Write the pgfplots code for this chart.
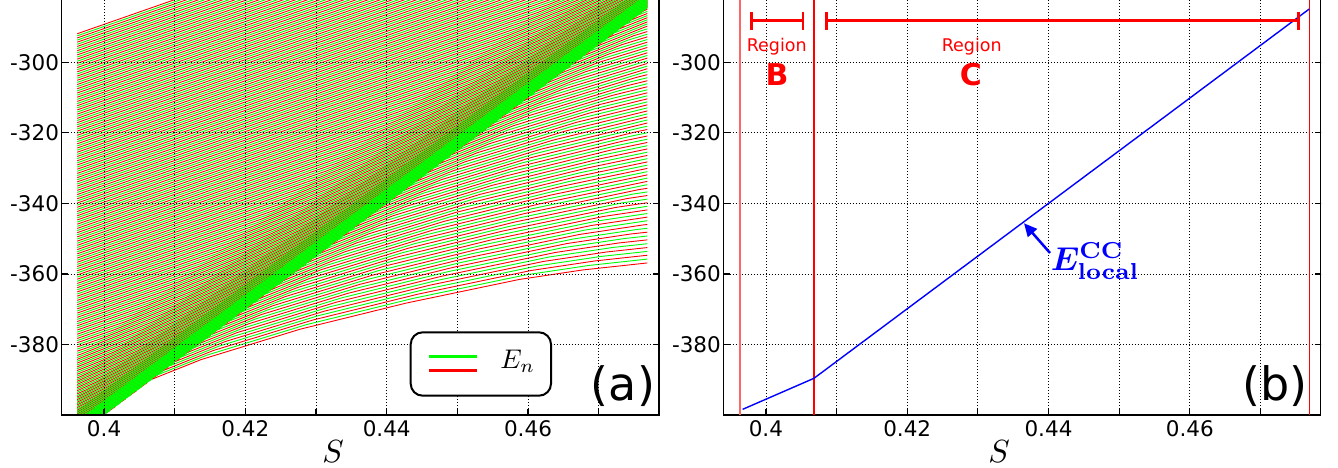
\RequirePackage{fix-cm}
\documentclass[border=0pt]{standalone}
\usepackage[no-math]{fontspec}
\setmainfont{DejaVu Sans}
\usepackage{bm}
\usepackage{graphicx}
\usepackage{pgfplots}
\pgfplotsset{compat=1.18}
\usetikzlibrary{arrows.meta}
\newcommand\LR[1]{\addplot[red,line width=0.9pt,mark=none,forget plot] coordinates {#1};}
\newcommand\LG[1]{\addplot[green,line width=0.9pt,mark=none,forget plot] coordinates {#1};}
\pgfplotsset{panel/.style={
 scale only axis, width=597pt, height=423.24pt, anchor=south west,
 xmin=0.394, xmax=0.4785, ymin=-400, ymax=-280,
 xtick={0.4,0.41,0.42,0.43,0.44,0.45,0.46,0.47},
 xticklabels={0.4,,0.42,,0.44,,0.46,},
 ytick={-380,-360,-340,-320,-300},
 yticklabels={-380,-360,-340,-320,-300},
 xmajorgrids, ymajorgrids,
 major grid style={black, line width=0.8pt, dash pattern=on 0.8pt off 2.2pt},
 axis line style={black, line width=1.6pt},
 tick align=inside, major tick length=6pt,
 every tick/.append style={black, line width=1.2pt},
 tick label style={font=\fontsize{21.5}{25}\selectfont},
 xticklabel style={anchor=north, inner sep=0pt, yshift=-5pt},
 yticklabel style={anchor=east, inner sep=0pt, xshift=-2.5pt},
}}
\begin{document}
\begin{tikzpicture}
\path[use as bounding box] (-61.7pt,-52pt) rectangle (1276.3pt,415pt);
\begin{axis}[scale only axis, width=570.15pt, height=423.24pt, at={(15.54pt,0pt)}, anchor=south west,
 xmin=0.3962, xmax=0.4769, ymin=-400, ymax=-280, hide axis]
% ---- red upper (even k)
\LR{(0.37342,-435.861)(0.40009,-399.861)}
\LR{(0.37492,-433.611)(0.40159,-397.611)}
\LR{(0.37642,-431.361)(0.40309,-395.361)}
\LR{(0.37792,-429.111)(0.40459,-393.111)}
\LR{(0.37942,-426.861)(0.40609,-390.861)}
\LR{(0.38092,-424.611)(0.40759,-388.611)}
\LR{(0.38242,-422.361)(0.40909,-386.361)}
\LR{(0.38392,-420.111)(0.41059,-384.111)}
\LR{(0.38542,-417.861)(0.41209,-381.861)}
\LR{(0.38692,-415.611)(0.41359,-379.611)}
\LR{(0.38842,-413.361)(0.41509,-377.361)}
\LR{(0.38992,-411.111)(0.41659,-375.111)}
\LR{(0.39142,-408.861)(0.41809,-372.861)}
\LR{(0.39292,-406.611)(0.41959,-370.611)}
\LR{(0.39442,-404.361)(0.42109,-368.361)}
\LR{(0.39592,-402.111)(0.42259,-366.111)}
\LR{(0.38885,-409.718)(0.39742,-399.861)(0.42409,-363.861)}
\LR{(0.39035,-407.468)(0.39892,-397.611)(0.42559,-361.611)}
\LR{(0.39185,-405.218)(0.40042,-395.361)(0.42709,-359.361)}
\LR{(0.39335,-402.968)(0.40192,-393.111)(0.42859,-357.111)}
\LR{(0.39485,-400.718)(0.40342,-390.861)(0.43009,-354.861)}
\LR{(0.38835,-406.468)(0.39635,-398.468)(0.40492,-388.611)(0.43159,-352.611)}
\LR{(0.38985,-404.218)(0.39785,-396.218)(0.40642,-386.361)(0.43309,-350.361)}
\LR{(0.39135,-401.968)(0.39935,-393.968)(0.40792,-384.111)(0.43459,-348.111)}
\LR{(0.39285,-399.718)(0.40085,-391.718)(0.40942,-381.861)(0.43609,-345.861)}
\LR{(0.39435,-397.468)(0.40235,-389.468)(0.41092,-379.611)(0.43759,-343.611)}
\LR{(0.39585,-395.218)(0.40385,-387.218)(0.41242,-377.361)(0.43909,-341.361)}
\LR{(0.38902,-400.468)(0.39735,-392.968)(0.40535,-384.968)(0.41392,-375.111)(0.44059,-339.111)}
\LR{(0.39052,-398.218)(0.39885,-390.718)(0.40685,-382.718)(0.41542,-372.861)(0.44209,-336.861)}
\LR{(0.39202,-395.968)(0.40035,-388.468)(0.40835,-380.468)(0.41692,-370.611)(0.44359,-334.611)}
\LR{(0.39352,-393.718)(0.40185,-386.218)(0.40985,-378.218)(0.41842,-368.361)(0.44509,-332.361)}
\LR{(0.39502,-391.468)(0.40335,-383.968)(0.41135,-375.968)(0.41992,-366.111)(0.44659,-330.111)}
\LR{(0.38795,-396.075)(0.39652,-389.218)(0.40485,-381.718)(0.41285,-373.718)(0.42142,-363.861)(0.44809,-327.861)}
\LR{(0.38945,-393.825)(0.39802,-386.968)(0.40635,-379.468)(0.41435,-371.468)(0.42292,-361.611)(0.44959,-325.611)}
\LR{(0.39095,-391.575)(0.39952,-384.718)(0.40785,-377.218)(0.41585,-369.218)(0.42442,-359.361)(0.45109,-323.361)}
\LR{(0.39245,-389.325)(0.40102,-382.468)(0.40935,-374.968)(0.41735,-366.968)(0.42592,-357.111)(0.45259,-321.111)}
\LR{(0.39395,-387.075)(0.40252,-380.218)(0.41085,-372.718)(0.41885,-364.718)(0.42742,-354.861)(0.45409,-318.861)}
\LR{(0.39545,-384.825)(0.40402,-377.968)(0.41235,-370.468)(0.42035,-362.468)(0.42892,-352.611)(0.45559,-316.611)}
\LR{(0.3962,-383.1)(0.39695,-382.575)(0.40552,-375.718)(0.41385,-368.218)(0.42185,-360.218)(0.43042,-350.361)(0.45709,-314.361)}
\LR{(0.3962,-381.9)(0.39845,-380.325)(0.40702,-373.468)(0.41535,-365.968)(0.42335,-357.968)(0.43192,-348.111)(0.45859,-312.111)}
\LR{(0.3962,-380.7)(0.39995,-378.075)(0.40852,-371.218)(0.41685,-363.718)(0.42485,-355.718)(0.43342,-345.861)(0.46009,-309.861)}
\LR{(0.3962,-379.5)(0.40145,-375.825)(0.41002,-368.968)(0.41835,-361.468)(0.42635,-353.468)(0.43492,-343.611)(0.46159,-307.611)}
\LR{(0.3962,-378.3)(0.40295,-373.575)(0.41152,-366.718)(0.41985,-359.218)(0.42785,-351.218)(0.43642,-341.361)(0.46309,-305.361)}
\LR{(0.3962,-377.1)(0.40445,-371.325)(0.41302,-364.468)(0.42135,-356.968)(0.42935,-348.968)(0.43792,-339.111)(0.46459,-303.111)}
\LR{(0.3962,-375.9)(0.40595,-369.075)(0.41452,-362.218)(0.42285,-354.718)(0.43085,-346.718)(0.43942,-336.861)(0.46609,-300.861)}
\LR{(0.3962,-374.7)(0.40745,-366.825)(0.41602,-359.968)(0.42435,-352.468)(0.43235,-344.468)(0.44092,-334.611)(0.46759,-298.611)}
\LR{(0.3962,-373.5)(0.40895,-364.575)(0.41752,-357.718)(0.42585,-350.218)(0.43385,-342.218)(0.44242,-332.361)(0.46909,-296.361)}
\LR{(0.3962,-372.3)(0.41045,-362.325)(0.41902,-355.468)(0.42735,-347.968)(0.43535,-339.968)(0.44392,-330.111)(0.47059,-294.111)}
\LR{(0.3962,-371.1)(0.41195,-360.075)(0.42052,-353.218)(0.42885,-345.718)(0.43685,-337.718)(0.44542,-327.861)(0.47209,-291.861)}
\LR{(0.3962,-369.9)(0.41345,-357.825)(0.42202,-350.968)(0.43035,-343.468)(0.43835,-335.468)(0.44692,-325.611)(0.47359,-289.611)}
\LR{(0.3962,-368.7)(0.41495,-355.575)(0.42352,-348.718)(0.43185,-341.218)(0.43985,-333.218)(0.44842,-323.361)(0.47509,-287.361)}
\LR{(0.3962,-367.5)(0.41645,-353.325)(0.42502,-346.468)(0.43335,-338.968)(0.44135,-330.968)(0.44992,-321.111)(0.47659,-285.111)}
\LR{(0.3962,-366.3)(0.41795,-351.075)(0.42652,-344.218)(0.43485,-336.718)(0.44285,-328.718)(0.45142,-318.861)(0.47809,-282.861)}
\LR{(0.3962,-365.1)(0.41945,-348.825)(0.42802,-341.968)(0.43635,-334.468)(0.44435,-326.468)(0.45292,-316.611)(0.47959,-280.611)}
\LR{(0.3962,-363.9)(0.42095,-346.575)(0.42952,-339.718)(0.43785,-332.218)(0.44585,-324.218)(0.45442,-314.361)(0.48109,-278.361)}
\LR{(0.3962,-362.7)(0.42245,-344.325)(0.43102,-337.468)(0.43935,-329.968)(0.44735,-321.968)(0.45592,-312.111)(0.48259,-276.111)}
\LR{(0.3962,-361.5)(0.42395,-342.075)(0.43252,-335.218)(0.44085,-327.718)(0.44885,-319.718)(0.45742,-309.861)(0.48409,-273.861)}
\LR{(0.3962,-360.3)(0.42545,-339.825)(0.43402,-332.968)(0.44235,-325.468)(0.45035,-317.468)(0.45892,-307.611)(0.48559,-271.611)}
\LR{(0.3962,-359.1)(0.42695,-337.575)(0.43552,-330.718)(0.44385,-323.218)(0.45185,-315.218)(0.46042,-305.361)(0.48709,-269.361)}
\LR{(0.3962,-357.9)(0.42845,-335.325)(0.43702,-328.468)(0.44535,-320.968)(0.45335,-312.968)(0.46192,-303.111)(0.48859,-267.111)}
\LR{(0.3962,-356.7)(0.42995,-333.075)(0.43852,-326.218)(0.44685,-318.718)(0.45485,-310.718)(0.46342,-300.861)(0.49009,-264.861)}
\LR{(0.3962,-355.5)(0.43145,-330.825)(0.44002,-323.968)(0.44835,-316.468)(0.45635,-308.468)(0.46492,-298.611)(0.49159,-262.611)}
\LR{(0.3962,-354.3)(0.43295,-328.575)(0.44152,-321.718)(0.44985,-314.218)(0.45785,-306.218)(0.46642,-296.361)(0.49309,-260.361)}
\LR{(0.3962,-353.1)(0.43445,-326.325)(0.44302,-319.468)(0.45135,-311.968)(0.45935,-303.968)(0.46792,-294.111)(0.49459,-258.111)}
\LR{(0.3962,-351.9)(0.43595,-324.075)(0.44452,-317.218)(0.45285,-309.718)(0.46085,-301.718)(0.46942,-291.861)(0.49609,-255.861)}
\LR{(0.3962,-350.7)(0.43745,-321.825)(0.44602,-314.968)(0.45435,-307.468)(0.46235,-299.468)(0.47092,-289.611)(0.49759,-253.611)}
\LR{(0.3962,-349.5)(0.43895,-319.575)(0.44752,-312.718)(0.45585,-305.218)(0.46385,-297.218)(0.47242,-287.361)(0.49909,-251.361)}
\LR{(0.3962,-348.3)(0.44045,-317.325)(0.44902,-310.468)(0.45735,-302.968)(0.46535,-294.968)(0.47392,-285.111)(0.50059,-249.111)}
\LR{(0.3962,-347.1)(0.44195,-315.075)(0.45052,-308.218)(0.45885,-300.718)(0.46685,-292.718)(0.47542,-282.861)(0.50209,-246.861)}
\LR{(0.3962,-345.9)(0.44345,-312.825)(0.45202,-305.968)(0.46035,-298.468)(0.46835,-290.468)(0.47692,-280.611)}
\LR{(0.3962,-344.7)(0.44495,-310.575)(0.45352,-303.718)(0.46185,-296.218)(0.46985,-288.218)(0.47842,-278.361)}
\LR{(0.3962,-343.5)(0.44645,-308.325)(0.45502,-301.468)(0.46335,-293.968)(0.47135,-285.968)(0.47992,-276.111)}
\LR{(0.3962,-342.3)(0.44795,-306.075)(0.45652,-299.218)(0.46485,-291.718)(0.47285,-283.718)(0.48142,-273.861)}
\LR{(0.3962,-341.1)(0.44945,-303.825)(0.45802,-296.968)(0.46635,-289.468)(0.47435,-281.468)}
\LR{(0.3962,-339.9)(0.45095,-301.575)(0.45952,-294.718)(0.46785,-287.218)(0.47585,-279.218)}
\LR{(0.3962,-338.7)(0.45245,-299.325)(0.46102,-292.468)(0.46935,-284.968)(0.47735,-276.968)}
\LR{(0.3962,-337.5)(0.45395,-297.075)(0.46252,-290.218)(0.47085,-282.718)(0.47885,-274.718)}
\LR{(0.3962,-336.3)(0.45545,-294.825)(0.46402,-287.968)(0.47235,-280.468)}
\LR{(0.3962,-335.1)(0.45695,-292.575)(0.46552,-285.718)(0.47385,-278.218)}
\LR{(0.3962,-333.9)(0.45845,-290.325)(0.46702,-283.468)(0.47535,-275.968)}
\LR{(0.3962,-332.7)(0.45995,-288.075)(0.46852,-281.218)}
\LR{(0.3962,-331.5)(0.46145,-285.825)(0.47002,-278.968)}
\LR{(0.3962,-330.3)(0.46295,-283.575)(0.47152,-276.718)}
\LR{(0.3962,-329.1)(0.4962,-259.1)}
\LR{(0.3962,-327.9)(0.4962,-257.9)}
\LR{(0.3962,-326.7)(0.4962,-256.7)}
\LR{(0.3962,-325.5)(0.4962,-255.5)}
\LR{(0.3962,-324.3)(0.4962,-254.3)}
\LR{(0.3962,-323.1)(0.4962,-253.1)}
\LR{(0.3962,-321.9)(0.4962,-251.9)}
\LR{(0.3962,-320.7)(0.4962,-250.7)}
\LR{(0.3962,-319.5)(0.4962,-249.5)}
\LR{(0.3962,-318.3)(0.4962,-248.3)}
\LR{(0.3962,-317.1)(0.4962,-247.1)}
\LR{(0.3962,-315.9)(0.4962,-245.9)}
\LR{(0.3962,-314.7)(0.4962,-244.7)}
\LR{(0.3962,-313.5)(0.4962,-243.5)}
\LR{(0.3962,-312.3)(0.4962,-242.3)}
\LR{(0.3962,-311.1)(0.4962,-241.1)}
\LR{(0.3962,-309.9)(0.4962,-239.9)}
\LR{(0.3962,-308.7)(0.4962,-238.7)}
\LR{(0.3962,-307.5)(0.4962,-237.5)}
\LR{(0.3962,-306.3)(0.4962,-236.3)}
\LR{(0.3962,-305.1)(0.4962,-235.1)}
\LR{(0.3962,-303.9)(0.4962,-233.9)}
\LR{(0.3962,-302.7)(0.4962,-232.7)}
\LR{(0.3962,-301.5)(0.4962,-231.5)}
\LR{(0.3962,-300.3)(0.4962,-230.3)}
\LR{(0.3962,-299.1)(0.4962,-229.1)}
\LR{(0.3962,-297.9)(0.4962,-227.9)}
\LR{(0.3962,-296.7)(0.4962,-226.7)}
\LR{(0.3962,-295.5)(0.4962,-225.5)}
\LR{(0.3962,-294.3)(0.4962,-224.3)}
\LR{(0.3962,-293.1)(0.4962,-223.1)}
\LR{(0.3962,-291.9)(0.4962,-221.9)}
% ---- red lower (even j)
\LR{(0.40675,-389.875)(0.41375,-384.275)(0.42775,-375.675)(0.44275,-368.275)(0.45875,-361.575)(0.46775,-358.875)(0.47695,-356.875)}
\LR{(0.40845,-387.325)(0.41545,-381.725)(0.42945,-373.125)(0.44445,-365.725)(0.46045,-359.025)(0.46945,-356.325)(0.47865,-354.325)}
\LR{(0.41015,-384.775)(0.41715,-379.175)(0.43115,-370.575)(0.44615,-363.175)(0.46215,-356.475)(0.47115,-353.775)(0.48035,-351.775)}
\LR{(0.41185,-382.225)(0.41885,-376.625)(0.43285,-368.025)(0.44785,-360.625)(0.46385,-353.925)(0.47285,-351.225)(0.48205,-349.225)}
\LR{(0.41355,-379.675)(0.42055,-374.075)(0.43455,-365.475)(0.44955,-358.075)(0.46555,-351.375)(0.47455,-348.675)(0.48375,-346.675)}
\LR{(0.41525,-377.125)(0.42225,-371.525)(0.43625,-362.925)(0.45125,-355.525)(0.46725,-348.825)(0.47625,-346.125)(0.48545,-344.125)}
\LR{(0.41695,-374.575)(0.42395,-368.975)(0.43795,-360.375)(0.45295,-352.975)(0.46895,-346.275)(0.47795,-343.575)}
\LR{(0.41865,-372.025)(0.42565,-366.425)(0.43965,-357.825)(0.45465,-350.425)(0.47065,-343.725)(0.47965,-341.025)}
\LR{(0.42035,-369.475)(0.42735,-363.875)(0.44135,-355.275)(0.45635,-347.875)(0.47235,-341.175)(0.48135,-338.475)}
\LR{(0.42205,-366.925)(0.42905,-361.325)(0.44305,-352.725)(0.45805,-345.325)(0.47405,-338.625)(0.48305,-335.925)}
\LR{(0.42375,-364.375)(0.43075,-358.775)(0.44475,-350.175)(0.45975,-342.775)(0.47575,-336.075)(0.48475,-333.375)}
\LR{(0.42545,-361.825)(0.43245,-356.225)(0.44645,-347.625)(0.46145,-340.225)(0.47745,-333.525)}
\LR{(0.42715,-359.275)(0.43415,-353.675)(0.44815,-345.075)(0.46315,-337.675)(0.47915,-330.975)}
\LR{(0.42885,-356.725)(0.43585,-351.125)(0.44985,-342.525)(0.46485,-335.125)(0.48085,-328.425)}
\LR{(0.43055,-354.175)(0.43755,-348.575)(0.45155,-339.975)(0.46655,-332.575)(0.48255,-325.875)}
\LR{(0.43225,-351.625)(0.43925,-346.025)(0.45325,-337.425)(0.46825,-330.025)(0.48425,-323.325)}
\LR{(0.43395,-349.075)(0.44095,-343.475)(0.45495,-334.875)(0.46995,-327.475)(0.48595,-320.775)}
\LR{(0.43565,-346.525)(0.44265,-340.925)(0.45665,-332.325)(0.47165,-324.925)(0.48765,-318.225)}
\LR{(0.43735,-343.975)(0.44435,-338.375)(0.45835,-329.775)(0.47335,-322.375)(0.48935,-315.675)}
\LR{(0.43905,-341.425)(0.44605,-335.825)(0.46005,-327.225)(0.47505,-319.825)(0.49105,-313.125)}
\LR{(0.44075,-338.875)(0.44775,-333.275)(0.46175,-324.675)(0.47675,-317.275)(0.49275,-310.575)}
\LR{(0.44245,-336.325)(0.44945,-330.725)(0.46345,-322.125)(0.47845,-314.725)}
\LR{(0.44415,-333.775)(0.45115,-328.175)(0.46515,-319.575)(0.48015,-312.175)}
\LR{(0.44585,-331.225)(0.45285,-325.625)(0.46685,-317.025)(0.48185,-309.625)}
\LR{(0.44755,-328.675)(0.45455,-323.075)(0.46855,-314.475)(0.48355,-307.075)}
\LR{(0.44925,-326.125)(0.45625,-320.525)(0.47025,-311.925)(0.48525,-304.525)}
\LR{(0.45095,-323.575)(0.45795,-317.975)(0.47195,-309.375)(0.48695,-301.975)}
\LR{(0.45265,-321.025)(0.45965,-315.425)(0.47365,-306.825)(0.48865,-299.425)}
\LR{(0.45435,-318.475)(0.46135,-312.875)(0.47535,-304.275)(0.49035,-296.875)}
\LR{(0.45605,-315.925)(0.46305,-310.325)(0.47705,-301.725)}
\LR{(0.45775,-313.375)(0.46475,-307.775)(0.47875,-299.175)}
\LR{(0.45945,-310.825)(0.46645,-305.225)(0.48045,-296.625)}
\LR{(0.46115,-308.275)(0.46815,-302.675)(0.48215,-294.075)}
\LR{(0.46285,-305.725)(0.46985,-300.125)(0.48385,-291.525)}
\LR{(0.46455,-303.175)(0.47155,-297.575)(0.48555,-288.975)}
\LR{(0.46625,-300.625)(0.47325,-295.025)(0.48725,-286.425)}
\LR{(0.46795,-298.075)(0.47495,-292.475)(0.48895,-283.875)}
\LR{(0.46965,-295.525)(0.47665,-289.925)(0.49065,-281.325)}
\LR{(0.47135,-292.975)(0.47835,-287.375)}
\LR{(0.47305,-290.425)(0.48005,-284.825)}
\LR{(0.47475,-287.875)(0.48175,-282.275)}
\LR{(0.47645,-285.325)(0.48345,-279.725)}
% ---- green upper (odd k)
\LG{(0.37417,-434.736)(0.40084,-398.736)}
\LG{(0.37567,-432.486)(0.40234,-396.486)}
\LG{(0.37717,-430.236)(0.40384,-394.236)}
\LG{(0.37867,-427.986)(0.40534,-391.986)}
\LG{(0.38017,-425.736)(0.40684,-389.736)}
\LG{(0.38167,-423.486)(0.40834,-387.486)}
\LG{(0.38317,-421.236)(0.40984,-385.236)}
\LG{(0.38467,-418.986)(0.41134,-382.986)}
\LG{(0.38617,-416.736)(0.41284,-380.736)}
\LG{(0.38767,-414.486)(0.41434,-378.486)}
\LG{(0.38917,-412.236)(0.41584,-376.236)}
\LG{(0.39067,-409.986)(0.41734,-373.986)}
\LG{(0.39217,-407.736)(0.41884,-371.736)}
\LG{(0.39367,-405.486)(0.42034,-369.486)}
\LG{(0.39517,-403.236)(0.42184,-367.236)}
\LG{(0.39667,-400.986)(0.42334,-364.986)}
\LG{(0.3896,-408.593)(0.39817,-398.736)(0.42484,-362.736)}
\LG{(0.3911,-406.343)(0.39967,-396.486)(0.42634,-360.486)}
\LG{(0.3926,-404.093)(0.40117,-394.236)(0.42784,-358.236)}
\LG{(0.3941,-401.843)(0.40267,-391.986)(0.42934,-355.986)}
\LG{(0.3956,-399.593)(0.40417,-389.736)(0.43084,-353.736)}
\LG{(0.3891,-405.343)(0.3971,-397.343)(0.40567,-387.486)(0.43234,-351.486)}
\LG{(0.3906,-403.093)(0.3986,-395.093)(0.40717,-385.236)(0.43384,-349.236)}
\LG{(0.3921,-400.843)(0.4001,-392.843)(0.40867,-382.986)(0.43534,-346.986)}
\LG{(0.3936,-398.593)(0.4016,-390.593)(0.41017,-380.736)(0.43684,-344.736)}
\LG{(0.3951,-396.343)(0.4031,-388.343)(0.41167,-378.486)(0.43834,-342.486)}
\LG{(0.38827,-401.593)(0.3966,-394.093)(0.4046,-386.093)(0.41317,-376.236)(0.43984,-340.236)}
\LG{(0.38977,-399.343)(0.3981,-391.843)(0.4061,-383.843)(0.41467,-373.986)(0.44134,-337.986)}
\LG{(0.39127,-397.093)(0.3996,-389.593)(0.4076,-381.593)(0.41617,-371.736)(0.44284,-335.736)}
\LG{(0.39277,-394.843)(0.4011,-387.343)(0.4091,-379.343)(0.41767,-369.486)(0.44434,-333.486)}
\LG{(0.39427,-392.593)(0.4026,-385.093)(0.4106,-377.093)(0.41917,-367.236)(0.44584,-331.236)}
\LG{(0.39577,-390.343)(0.4041,-382.843)(0.4121,-374.843)(0.42067,-364.986)(0.44734,-328.986)}
\LG{(0.3887,-394.95)(0.39727,-388.093)(0.4056,-380.593)(0.4136,-372.593)(0.42217,-362.736)(0.44884,-326.736)}
\LG{(0.3902,-392.7)(0.39877,-385.843)(0.4071,-378.343)(0.4151,-370.343)(0.42367,-360.486)(0.45034,-324.486)}
\LG{(0.3917,-390.45)(0.40027,-383.593)(0.4086,-376.093)(0.4166,-368.093)(0.42517,-358.236)(0.45184,-322.236)}
\LG{(0.3932,-388.2)(0.40177,-381.343)(0.4101,-373.843)(0.4181,-365.843)(0.42667,-355.986)(0.45334,-319.986)}
\LG{(0.3947,-385.95)(0.40327,-379.093)(0.4116,-371.593)(0.4196,-363.593)(0.42817,-353.736)(0.45484,-317.736)}
\LG{(0.3962,-383.7)(0.40477,-376.843)(0.4131,-369.343)(0.4211,-361.343)(0.42967,-351.486)(0.45634,-315.486)}
\LG{(0.3962,-382.5)(0.3977,-381.45)(0.40627,-374.593)(0.4146,-367.093)(0.4226,-359.093)(0.43117,-349.236)(0.45784,-313.236)}
\LG{(0.3962,-381.3)(0.3992,-379.2)(0.40777,-372.343)(0.4161,-364.843)(0.4241,-356.843)(0.43267,-346.986)(0.45934,-310.986)}
\LG{(0.3962,-380.1)(0.4007,-376.95)(0.40927,-370.093)(0.4176,-362.593)(0.4256,-354.593)(0.43417,-344.736)(0.46084,-308.736)}
\LG{(0.3962,-378.9)(0.4022,-374.7)(0.41077,-367.843)(0.4191,-360.343)(0.4271,-352.343)(0.43567,-342.486)(0.46234,-306.486)}
\LG{(0.3962,-377.7)(0.4037,-372.45)(0.41227,-365.593)(0.4206,-358.093)(0.4286,-350.093)(0.43717,-340.236)(0.46384,-304.236)}
\LG{(0.3962,-376.5)(0.4052,-370.2)(0.41377,-363.343)(0.4221,-355.843)(0.4301,-347.843)(0.43867,-337.986)(0.46534,-301.986)}
\LG{(0.3962,-375.3)(0.4067,-367.95)(0.41527,-361.093)(0.4236,-353.593)(0.4316,-345.593)(0.44017,-335.736)(0.46684,-299.736)}
\LG{(0.3962,-374.1)(0.4082,-365.7)(0.41677,-358.843)(0.4251,-351.343)(0.4331,-343.343)(0.44167,-333.486)(0.46834,-297.486)}
\LG{(0.3962,-372.9)(0.4097,-363.45)(0.41827,-356.593)(0.4266,-349.093)(0.4346,-341.093)(0.44317,-331.236)(0.46984,-295.236)}
\LG{(0.3962,-371.7)(0.4112,-361.2)(0.41977,-354.343)(0.4281,-346.843)(0.4361,-338.843)(0.44467,-328.986)(0.47134,-292.986)}
\LG{(0.3962,-370.5)(0.4127,-358.95)(0.42127,-352.093)(0.4296,-344.593)(0.4376,-336.593)(0.44617,-326.736)(0.47284,-290.736)}
\LG{(0.3962,-369.3)(0.4142,-356.7)(0.42277,-349.843)(0.4311,-342.343)(0.4391,-334.343)(0.44767,-324.486)(0.47434,-288.486)}
\LG{(0.3962,-368.1)(0.4157,-354.45)(0.42427,-347.593)(0.4326,-340.093)(0.4406,-332.093)(0.44917,-322.236)(0.47584,-286.236)}
\LG{(0.3962,-366.9)(0.4172,-352.2)(0.42577,-345.343)(0.4341,-337.843)(0.4421,-329.843)(0.45067,-319.986)(0.47734,-283.986)}
\LG{(0.3962,-365.7)(0.4187,-349.95)(0.42727,-343.093)(0.4356,-335.593)(0.4436,-327.593)(0.45217,-317.736)(0.47884,-281.736)}
\LG{(0.3962,-364.5)(0.4202,-347.7)(0.42877,-340.843)(0.4371,-333.343)(0.4451,-325.343)(0.45367,-315.486)(0.48034,-279.486)}
\LG{(0.3962,-363.3)(0.4217,-345.45)(0.43027,-338.593)(0.4386,-331.093)(0.4466,-323.093)(0.45517,-313.236)(0.48184,-277.236)}
\LG{(0.3962,-362.1)(0.4232,-343.2)(0.43177,-336.343)(0.4401,-328.843)(0.4481,-320.843)(0.45667,-310.986)(0.48334,-274.986)}
\LG{(0.3962,-360.9)(0.4247,-340.95)(0.43327,-334.093)(0.4416,-326.593)(0.4496,-318.593)(0.45817,-308.736)(0.48484,-272.736)}
\LG{(0.3962,-359.7)(0.4262,-338.7)(0.43477,-331.843)(0.4431,-324.343)(0.4511,-316.343)(0.45967,-306.486)(0.48634,-270.486)}
\LG{(0.3962,-358.5)(0.4277,-336.45)(0.43627,-329.593)(0.4446,-322.093)(0.4526,-314.093)(0.46117,-304.236)(0.48784,-268.236)}
\LG{(0.3962,-357.3)(0.4292,-334.2)(0.43777,-327.343)(0.4461,-319.843)(0.4541,-311.843)(0.46267,-301.986)(0.48934,-265.986)}
\LG{(0.3962,-356.1)(0.4307,-331.95)(0.43927,-325.093)(0.4476,-317.593)(0.4556,-309.593)(0.46417,-299.736)(0.49084,-263.736)}
\LG{(0.3962,-354.9)(0.4322,-329.7)(0.44077,-322.843)(0.4491,-315.343)(0.4571,-307.343)(0.46567,-297.486)(0.49234,-261.486)}
\LG{(0.3962,-353.7)(0.4337,-327.45)(0.44227,-320.593)(0.4506,-313.093)(0.4586,-305.093)(0.46717,-295.236)(0.49384,-259.236)}
\LG{(0.3962,-352.5)(0.4352,-325.2)(0.44377,-318.343)(0.4521,-310.843)(0.4601,-302.843)(0.46867,-292.986)(0.49534,-256.986)}
\LG{(0.3962,-351.3)(0.4367,-322.95)(0.44527,-316.093)(0.4536,-308.593)(0.4616,-300.593)(0.47017,-290.736)(0.49684,-254.736)}
\LG{(0.3962,-350.1)(0.4382,-320.7)(0.44677,-313.843)(0.4551,-306.343)(0.4631,-298.343)(0.47167,-288.486)(0.49834,-252.486)}
\LG{(0.3962,-348.9)(0.4397,-318.45)(0.44827,-311.593)(0.4566,-304.093)(0.4646,-296.093)(0.47317,-286.236)(0.49984,-250.236)}
\LG{(0.3962,-347.7)(0.4412,-316.2)(0.44977,-309.343)(0.4581,-301.843)(0.4661,-293.843)(0.47467,-283.986)(0.50134,-247.986)}
\LG{(0.3962,-346.5)(0.4427,-313.95)(0.45127,-307.093)(0.4596,-299.593)(0.4676,-291.593)(0.47617,-281.736)}
\LG{(0.3962,-345.3)(0.4442,-311.7)(0.45277,-304.843)(0.4611,-297.343)(0.4691,-289.343)(0.47767,-279.486)}
\LG{(0.3962,-344.1)(0.4457,-309.45)(0.45427,-302.593)(0.4626,-295.093)(0.4706,-287.093)(0.47917,-277.236)}
\LG{(0.3962,-342.9)(0.4472,-307.2)(0.45577,-300.343)(0.4641,-292.843)(0.4721,-284.843)(0.48067,-274.986)}
\LG{(0.3962,-341.7)(0.4487,-304.95)(0.45727,-298.093)(0.4656,-290.593)(0.4736,-282.593)(0.48217,-272.736)}
\LG{(0.3962,-340.5)(0.4502,-302.7)(0.45877,-295.843)(0.4671,-288.343)(0.4751,-280.343)}
\LG{(0.3962,-339.3)(0.4517,-300.45)(0.46027,-293.593)(0.4686,-286.093)(0.4766,-278.093)}
\LG{(0.3962,-338.1)(0.4532,-298.2)(0.46177,-291.343)(0.4701,-283.843)(0.4781,-275.843)}
\LG{(0.3962,-336.9)(0.4547,-295.95)(0.46327,-289.093)(0.4716,-281.593)}
\LG{(0.3962,-335.7)(0.4562,-293.7)(0.46477,-286.843)(0.4731,-279.343)}
\LG{(0.3962,-334.5)(0.4577,-291.45)(0.46627,-284.593)(0.4746,-277.093)}
\LG{(0.3962,-333.3)(0.4592,-289.2)(0.46777,-282.343)(0.4761,-274.843)}
\LG{(0.3962,-332.1)(0.4607,-286.95)(0.46927,-280.093)}
\LG{(0.3962,-330.9)(0.4622,-284.7)(0.47077,-277.843)}
\LG{(0.3962,-329.7)(0.4637,-282.45)(0.47227,-275.593)}
\LG{(0.3962,-328.5)(0.4962,-258.5)}
\LG{(0.3962,-327.3)(0.4962,-257.3)}
\LG{(0.3962,-326.1)(0.4962,-256.1)}
\LG{(0.3962,-324.9)(0.4962,-254.9)}
\LG{(0.3962,-323.7)(0.4962,-253.7)}
\LG{(0.3962,-322.5)(0.4962,-252.5)}
\LG{(0.3962,-321.3)(0.4962,-251.3)}
\LG{(0.3962,-320.1)(0.4962,-250.1)}
\LG{(0.3962,-318.9)(0.4962,-248.9)}
\LG{(0.3962,-317.7)(0.4962,-247.7)}
\LG{(0.3962,-316.5)(0.4962,-246.5)}
\LG{(0.3962,-315.3)(0.4962,-245.3)}
\LG{(0.3962,-314.1)(0.4962,-244.1)}
\LG{(0.3962,-312.9)(0.4962,-242.9)}
\LG{(0.3962,-311.7)(0.4962,-241.7)}
\LG{(0.3962,-310.5)(0.4962,-240.5)}
\LG{(0.3962,-309.3)(0.4962,-239.3)}
\LG{(0.3962,-308.1)(0.4962,-238.1)}
\LG{(0.3962,-306.9)(0.4962,-236.9)}
\LG{(0.3962,-305.7)(0.4962,-235.7)}
\LG{(0.3962,-304.5)(0.4962,-234.5)}
\LG{(0.3962,-303.3)(0.4962,-233.3)}
\LG{(0.3962,-302.1)(0.4962,-232.1)}
\LG{(0.3962,-300.9)(0.4962,-230.9)}
\LG{(0.3962,-299.7)(0.4962,-229.7)}
\LG{(0.3962,-298.5)(0.4962,-228.5)}
\LG{(0.3962,-297.3)(0.4962,-227.3)}
\LG{(0.3962,-296.1)(0.4962,-226.1)}
\LG{(0.3962,-294.9)(0.4962,-224.9)}
\LG{(0.3962,-293.7)(0.4962,-223.7)}
\LG{(0.3962,-292.5)(0.4962,-222.5)}
% ---- green lower (odd j)
\LG{(0.4076,-388.6)(0.4146,-383.0)(0.4286,-374.4)(0.4436,-367.0)(0.4596,-360.3)(0.4686,-357.6)(0.4778,-355.6)}
\LG{(0.4093,-386.05)(0.4163,-380.45)(0.4303,-371.85)(0.4453,-364.45)(0.4613,-357.75)(0.4703,-355.05)(0.4795,-353.05)}
\LG{(0.411,-383.5)(0.418,-377.9)(0.432,-369.3)(0.447,-361.9)(0.463,-355.2)(0.472,-352.5)(0.4812,-350.5)}
\LG{(0.4127,-380.95)(0.4197,-375.35)(0.4337,-366.75)(0.4487,-359.35)(0.4647,-352.65)(0.4737,-349.95)(0.4829,-347.95)}
\LG{(0.4144,-378.4)(0.4214,-372.8)(0.4354,-364.2)(0.4504,-356.8)(0.4664,-350.1)(0.4754,-347.4)(0.4846,-345.4)}
\LG{(0.4161,-375.85)(0.4231,-370.25)(0.4371,-361.65)(0.4521,-354.25)(0.4681,-347.55)(0.4771,-344.85)}
\LG{(0.4178,-373.3)(0.4248,-367.7)(0.4388,-359.1)(0.4538,-351.7)(0.4698,-345.0)(0.4788,-342.3)}
\LG{(0.4195,-370.75)(0.4265,-365.15)(0.4405,-356.55)(0.4555,-349.15)(0.4715,-342.45)(0.4805,-339.75)}
\LG{(0.4212,-368.2)(0.4282,-362.6)(0.4422,-354.0)(0.4572,-346.6)(0.4732,-339.9)(0.4822,-337.2)}
\LG{(0.4229,-365.65)(0.4299,-360.05)(0.4439,-351.45)(0.4589,-344.05)(0.4749,-337.35)(0.4839,-334.65)}
\LG{(0.4246,-363.1)(0.4316,-357.5)(0.4456,-348.9)(0.4606,-341.5)(0.4766,-334.8)(0.4856,-332.1)}
\LG{(0.4263,-360.55)(0.4333,-354.95)(0.4473,-346.35)(0.4623,-338.95)(0.4783,-332.25)}
\LG{(0.428,-358.0)(0.435,-352.4)(0.449,-343.8)(0.464,-336.4)(0.48,-329.7)}
\LG{(0.4297,-355.45)(0.4367,-349.85)(0.4507,-341.25)(0.4657,-333.85)(0.4817,-327.15)}
\LG{(0.4314,-352.9)(0.4384,-347.3)(0.4524,-338.7)(0.4674,-331.3)(0.4834,-324.6)}
\LG{(0.4331,-350.35)(0.4401,-344.75)(0.4541,-336.15)(0.4691,-328.75)(0.4851,-322.05)}
\LG{(0.4348,-347.8)(0.4418,-342.2)(0.4558,-333.6)(0.4708,-326.2)(0.4868,-319.5)}
\LG{(0.4365,-345.25)(0.4435,-339.65)(0.4575,-331.05)(0.4725,-323.65)(0.4885,-316.95)}
\LG{(0.4382,-342.7)(0.4452,-337.1)(0.4592,-328.5)(0.4742,-321.1)(0.4902,-314.4)}
\LG{(0.4399,-340.15)(0.4469,-334.55)(0.4609,-325.95)(0.4759,-318.55)(0.4919,-311.85)}
\LG{(0.4416,-337.6)(0.4486,-332.0)(0.4626,-323.4)(0.4776,-316.0)}
\LG{(0.4433,-335.05)(0.4503,-329.45)(0.4643,-320.85)(0.4793,-313.45)}
\LG{(0.445,-332.5)(0.452,-326.9)(0.466,-318.3)(0.481,-310.9)}
\LG{(0.4467,-329.95)(0.4537,-324.35)(0.4677,-315.75)(0.4827,-308.35)}
\LG{(0.4484,-327.4)(0.4554,-321.8)(0.4694,-313.2)(0.4844,-305.8)}
\LG{(0.4501,-324.85)(0.4571,-319.25)(0.4711,-310.65)(0.4861,-303.25)}
\LG{(0.4518,-322.3)(0.4588,-316.7)(0.4728,-308.1)(0.4878,-300.7)}
\LG{(0.4535,-319.75)(0.4605,-314.15)(0.4745,-305.55)(0.4895,-298.15)}
\LG{(0.4552,-317.2)(0.4622,-311.6)(0.4762,-303.0)(0.4912,-295.6)}
\LG{(0.4569,-314.65)(0.4639,-309.05)(0.4779,-300.45)}
\LG{(0.4586,-312.1)(0.4656,-306.5)(0.4796,-297.9)}
\LG{(0.4603,-309.55)(0.4673,-303.95)(0.4813,-295.35)}
\LG{(0.462,-307.0)(0.469,-301.4)(0.483,-292.8)}
\LG{(0.4637,-304.45)(0.4707,-298.85)(0.4847,-290.25)}
\LG{(0.4654,-301.9)(0.4724,-296.3)(0.4864,-287.7)}
\LG{(0.4671,-299.35)(0.4741,-293.75)(0.4881,-285.15)}
\LG{(0.4688,-296.8)(0.4758,-291.2)(0.4898,-282.6)}
\LG{(0.4705,-294.25)(0.4775,-288.65)}
\LG{(0.4722,-291.7)(0.4792,-286.1)}
\LG{(0.4739,-289.15)(0.4809,-283.55)}
\LG{(0.4756,-286.6)(0.4826,-281.0)}
\end{axis}
\begin{axis}[panel, at={(0pt,0pt)}]
\end{axis}
\begin{axis}[panel, at={(661.8pt,0pt)}]
\addplot[red!60, line width=1.5pt, mark=none] coordinates {(0.3963,-400) (0.3963,-280)};
\addplot[red, line width=1.3pt, mark=none] coordinates {(0.4068,-400) (0.4068,-280)};
\addplot[red, line width=1.3pt, mark=none] coordinates {(0.4769,-400) (0.4769,-280)};
\addplot[blue, line width=1.4pt, mark=none] coordinates {(0.3967,-398.4) (0.4068,-389.6) (0.4769,-284.9)};
\end{axis}
% panel (b) annotations
\draw[red, line width=2.7pt, {Bar[width=18.3pt]}-{Bar[width=18.3pt]}] (688.3pt,394.3pt) -- (742.6pt,394.3pt);
\draw[red, line width=2.7pt, {Bar[width=18.3pt]}-{Bar[width=18.3pt]}] (763.3pt,394.3pt) -- (1238.3pt,394.3pt);
\node[red, anchor=base, inner sep=0pt, font=\fontsize{17.5}{20}\selectfont] at (715pt,363.4pt) {Region};
\node[red, anchor=base, inner sep=0pt, font=\fontsize{30}{34}\selectfont\bfseries] at (715.3pt,329.5pt) {B};
\node[red, anchor=base, inner sep=0pt, font=\fontsize{17.5}{20}\selectfont] at (910pt,363.4pt) {Region};
\node[red, anchor=base, inner sep=0pt, font=\fontsize{30}{34}\selectfont\bfseries] at (909.1pt,329.5pt) {C};
\draw[blue, line width=2.5pt, -{Triangle[length=13pt,width=12pt]}] (988.3pt,162pt) -- (962.3pt,191.7pt);
\node[blue, anchor=base west, inner sep=0pt] at (989pt,145pt) {\scalebox{3.3}{$\bm{E}^{\mathbf{CC}}_{\mathbf{local}}$}};
% legend (a)
\draw[black, line width=2pt, rounded corners=12pt, fill=white] (349pt,19.3pt) rectangle (489.3pt,82.7pt);
\draw[green, line width=3pt] (367.6pt,58.3pt) -- (415.6pt,58.3pt);
\draw[red, line width=3pt] (367.6pt,44.7pt) -- (415.6pt,44.7pt);
\node[anchor=base west, inner sep=0pt] at (438.5pt,46.6pt) {\scalebox{2.7}{$E_n$}};
% panel labels
\node[anchor=base, inner sep=0pt, font=\fontsize{46}{50}\selectfont] at (561.3pt,15pt) {(a)};
\node[anchor=base, inner sep=0pt, font=\fontsize{46}{50}\selectfont] at (1213.3pt,15pt) {(b)};
\node[anchor=base, inner sep=0pt] at (271.3pt,-47.6pt) {\scalebox{3.2}{$S$}};
\node[anchor=base, inner sep=0pt] at (937.3pt,-47.6pt) {\scalebox{3.2}{$S$}};
\end{tikzpicture}
\end{document}
